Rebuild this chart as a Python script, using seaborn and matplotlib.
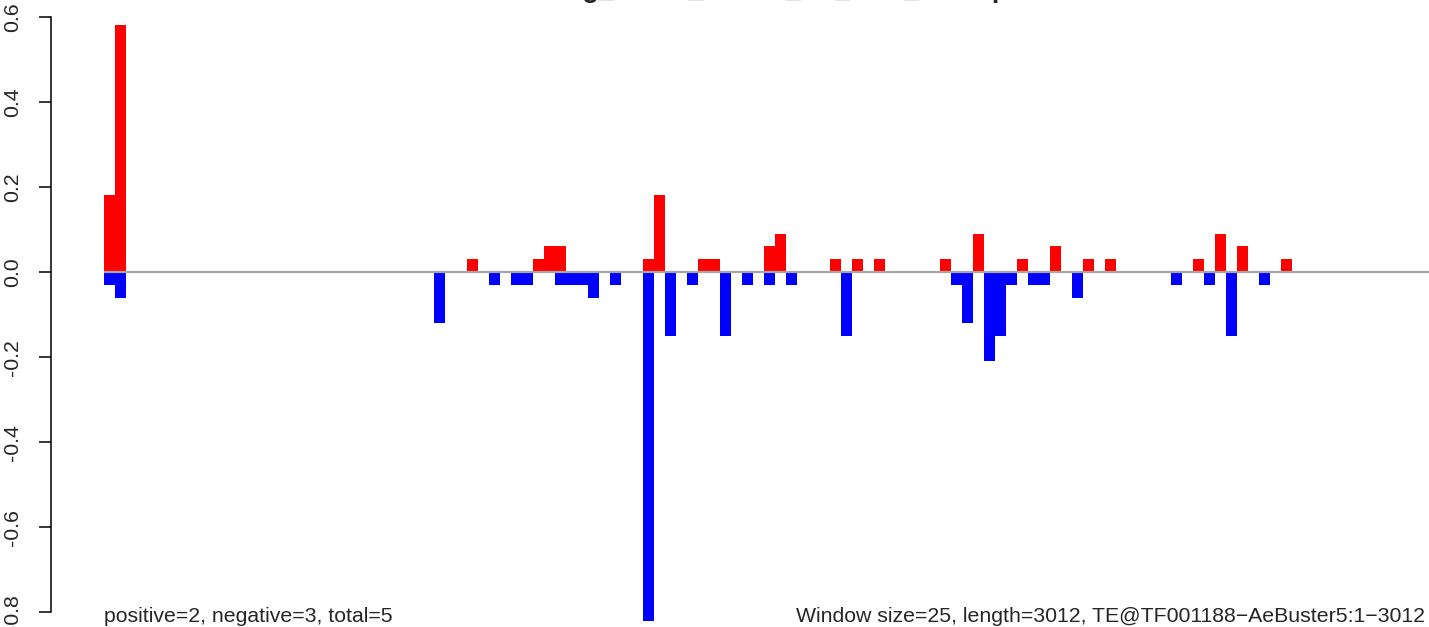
import numpy as np
import pandas as pd
import matplotlib
matplotlib.use("Agg")
import matplotlib.pyplot as plt
import seaborn as sns

# Window counts: 3012 bp / window size 25 -> 121 windows
n_windows = 121

# positive strand hits (window index -> value)
pos_idx = [0, 1, 33, 39, 40, 41, 49, 50, 54, 55, 60, 61, 66, 68, 70,
           76, 79, 83, 86, 89, 91, 99, 101, 103, 107]
pos_val = [0.18, 0.58, 0.03, 0.03, 0.06, 0.06, 0.03, 0.18, 0.03, 0.03, 0.06, 0.09, 0.03, 0.03, 0.03,
           0.03, 0.09, 0.03, 0.06, 0.03, 0.03, 0.03, 0.09, 0.06, 0.03]

# negative strand hits (window index -> value)
neg_idx = [0, 1, 30, 35, 37, 38, 41, 42, 43, 44, 46, 49, 51, 53, 56, 58, 60, 62,
           67, 77, 78, 80, 81, 82, 84, 85, 88, 97, 100, 102, 105]
neg_val = [-0.03, -0.06, -0.12, -0.03, -0.03, -0.03, -0.03, -0.03, -0.03, -0.06, -0.03, -0.82,
           -0.15, -0.03, -0.15, -0.03, -0.03, -0.03,
           -0.15, -0.03, -0.12, -0.21, -0.15, -0.03, -0.03, -0.03, -0.06, -0.03, -0.03, -0.15, -0.03]

yticks = [-0.8, -0.6, -0.4, -0.2, 0.0, 0.2, 0.4, 0.6]

# title is cut off at the top of the reference, only descenders are visible
title = "Avg_orient_strand_TE_bias_TEmap"
left_note = "positive=2, negative=3, total=5"
right_note = "Window size=25, length=3012, TE@TF001188\u2212AeBuster5:1\u22123012"

# build full table
df = pd.DataFrame({"window": np.arange(n_windows)})
df["pos"] = 0.0
df["neg"] = 0.0
df.loc[pos_idx, "pos"] = pos_val
df.loc[neg_idx, "neg"] = neg_val

sns.set_style("white")
plt.rcParams["font.family"] = ["Liberation Sans", "DejaVu Sans"]

W, H = 1429, 627
fig = plt.figure(figsize=(W / 100, H / 100), dpi=100)
ax = fig.add_axes([51 / W, 0, 1 - 51 / W, 1])

sns.barplot(data=df, x="window", y="pos", color="#ff0000", saturation=1,
            width=1, linewidth=0, ax=ax, errorbar=None)
sns.barplot(data=df, x="window", y="neg", color="#0000ff", saturation=1,
            width=1, linewidth=0, ax=ax, errorbar=None)

# zero line starting at the first bar
ax.hlines(0, -0.5, n_windows + 5, color="#a6a6a6", linewidth=1.6, zorder=5)

# map pixels: bar i spans 104+11*i .. 115+11*i, 0 at y=272, 425.5 px per unit
px_per_unit = 425.5
ax.set_xlim((51 - 104) / 11 - 0.5, (W - 104) / 11 - 0.5)
ax.set_ylim(-(H - 272) / px_per_unit, 272 / px_per_unit)

for s in ["top", "right", "bottom"]:
    ax.spines[s].set_visible(False)
ax.spines["left"].set_bounds(-0.8, 0.6)
ax.spines["left"].set_linewidth(1.1)
ax.spines["left"].set_color("black")
ax.set_xticks([])
ax.set_yticks(yticks)
ax.set_yticklabels([f"{v:.1f}" for v in yticks], rotation=90, va="center",
                   fontsize=15.3)
ax.tick_params(axis="y", direction="out", length=9, width=1.1, pad=12,
               left=True, color="black")
ax.set_xlabel("")
ax.set_ylabel("")
ax.patch.set_alpha(0)

# title mostly above the visible area
fig.text(779 / W, 1 + 3 / H, title, ha="center", va="baseline",
         fontsize=19.4, fontweight="bold")

fig.text(104 / W, 1 - 622 / H, left_note, ha="left", va="baseline", fontsize=15.3)
fig.text(796 / W, 1 - 622 / H, right_note, ha="left", va="baseline", fontsize=15.3)

fig.savefig("out.png", dpi=100)
